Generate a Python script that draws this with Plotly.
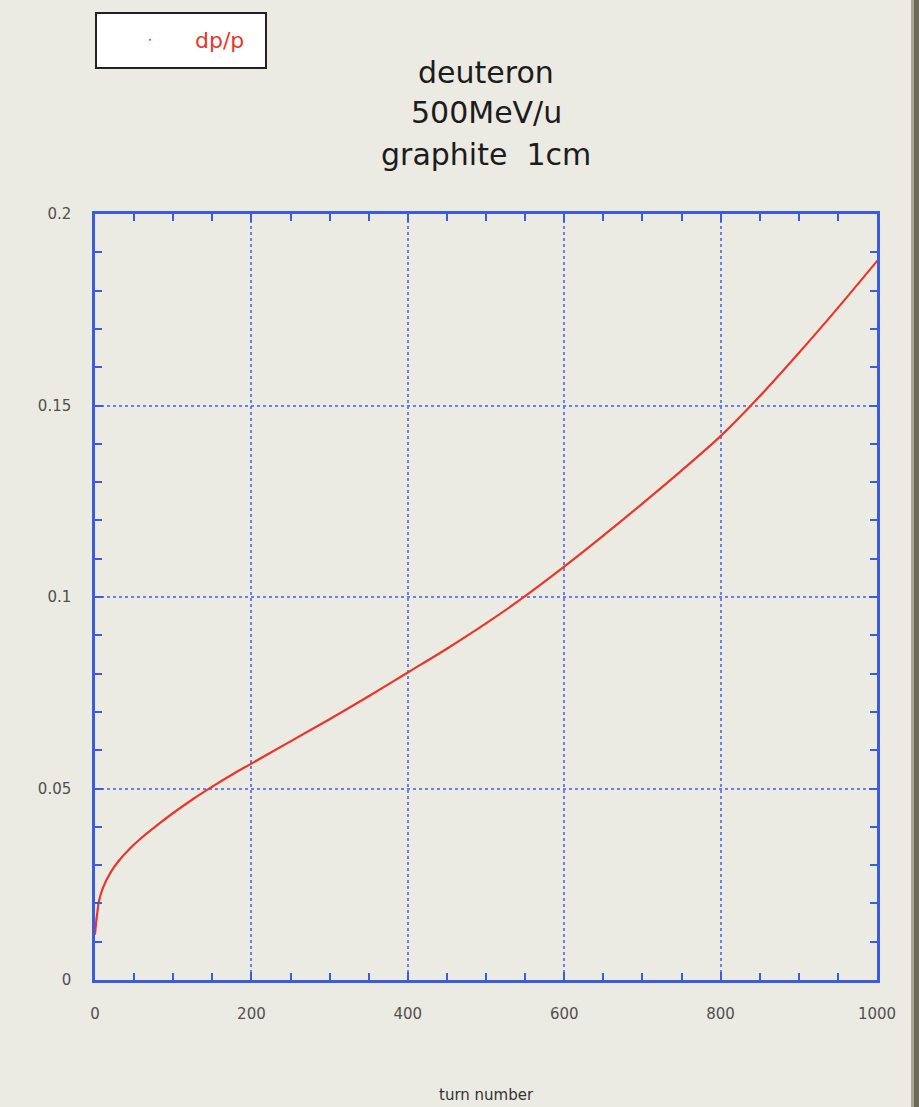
import plotly.graph_objects as go

# Momentum spread dp/p versus turn number
turns = [0, 2, 5, 10, 20, 30, 45, 60, 80, 100, 125, 150, 175, 200, 250, 300,
         350, 400, 450, 500, 550, 600, 650, 700, 750, 800, 850, 900, 950, 1000]
dp_p = [0.012, 0.016, 0.0205, 0.0240, 0.0281, 0.0310, 0.0344, 0.0372, 0.0405,
        0.0436, 0.0472, 0.0505, 0.0536, 0.0565, 0.0623, 0.0681, 0.0741, 0.0803,
        0.0865, 0.0931, 0.1002, 0.1079, 0.1160, 0.1244, 0.1330, 0.1420, 0.1524,
        0.1637, 0.1755, 0.1877]

title_lines = ["deuteron", "500MeV/u", "graphite\u00a0\u00a01cm"]
x_ticks = [0, 200, 400, 600, 800, 1000]
y_ticks = [0, 0.05, 0.1, 0.15, 0.2]
y_tick_text = ["0", "0.05", "0.1", "0.15", "0.2"]

BG = "#ecebe3"
AXIS = "#3b5be0"
GRID = "rgba(85,110,230,0.85)"
RED = "#e8372a"

W, H = 919, 1107
L, R, T, B = 95, 42, 214, 127
pw, ph = W - L - R, H - T - B


def px_x(p):
    return (p - L) / pw


def px_y(p):
    return (H - B - p) / ph


fig = go.Figure()
fig.add_trace(go.Scatter(
    x=turns, y=dp_p, mode="lines",
    line=dict(color=RED, width=2.2, shape="spline", smoothing=0.8),
    showlegend=False, hoverinfo="skip"))
fig.add_trace(go.Scatter(
    x=turns, y=dp_p, mode="markers", name="dp/p",
    marker=dict(color=RED, size=2)))

axis_common = dict(
    showline=True, linecolor=AXIS, linewidth=2.5, mirror="ticks",
    ticks="inside", ticklen=8, tickwidth=2, tickcolor=AXIS,
    showgrid=True, gridcolor=GRID, gridwidth=1.5, griddash="dot",
    zeroline=False, tickfont=dict(family="DejaVu Sans", size=15, color="#505050"),
    ticklabelstandoff=18,
)

fig.update_xaxes(range=[0, 1000], tickvals=x_ticks,
                 minor=dict(dtick=50, ticks="inside", ticklen=7, tickwidth=2,
                            tickcolor=AXIS, showgrid=False),
                 **axis_common)
fig.update_yaxes(range=[0, 0.2], tickvals=y_ticks, ticktext=y_tick_text,
                 minor=dict(dtick=0.01, ticks="inside", ticklen=7, tickwidth=2,
                            tickcolor=AXIS, showgrid=False),
                 **axis_common)

annotations = []
for text, yc in zip(title_lines, [73, 113, 155]):
    annotations.append(dict(
        text=text, x=0.5, y=px_y(yc), xref="paper", yref="paper",
        xanchor="center", yanchor="middle", showarrow=False,
        font=dict(family="DejaVu Sans", size=30, color="#1c1c1c")))
annotations.append(dict(
    text="turn number", x=0.5, y=px_y(1095), xref="paper", yref="paper",
    xanchor="center", yanchor="middle", showarrow=False,
    font=dict(family="DejaVu Sans", size=15, color="#333333")))

shapes = [
    # legend frame
    dict(type="rect", xref="paper", yref="paper",
         x0=px_x(96), x1=px_x(266), y0=px_y(68), y1=px_y(13),
         line=dict(color="#222222", width=2), fillcolor="white", layer="below"),
    # dark page edge on the right
    dict(type="rect", xref="paper", yref="paper",
         x0=px_x(911), x1=px_x(914), y0=px_y(H + 5), y1=px_y(-5),
         line=dict(width=0), fillcolor="#a8a796"),
    dict(type="rect", xref="paper", yref="paper",
         x0=px_x(914), x1=px_x(W + 5), y0=px_y(H + 5), y1=px_y(-5),
         line=dict(width=0), fillcolor="#6c6b5a"),
]

fig.update_layout(
    width=W, height=H,
    margin=dict(l=L, r=R, t=T, b=B),
    paper_bgcolor=BG, plot_bgcolor=BG,
    annotations=annotations, shapes=shapes,
    showlegend=True,
    legend=dict(x=px_x(105), y=px_y(40), xanchor="left", yanchor="middle",
                bgcolor="rgba(0,0,0,0)", borderwidth=0, itemwidth=80,
                font=dict(family="DejaVu Sans", size=22, color=RED)),
)

fig.write_html("out.html")
